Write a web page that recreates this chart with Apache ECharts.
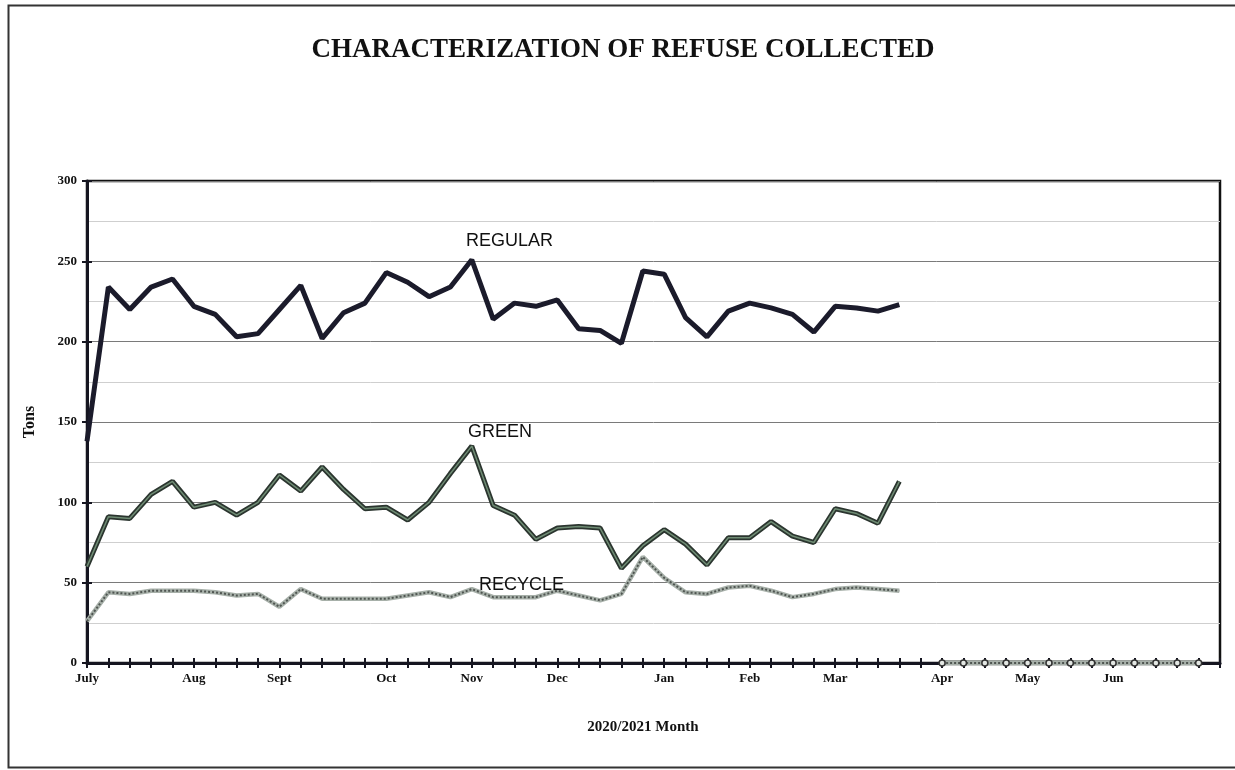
<!DOCTYPE html>
<html>
<head>
<meta charset="utf-8">
<script src="https://cdn.jsdelivr.net/npm/echarts@6/dist/echarts.min.js"></script>
<style>
html,body{margin:0;padding:0;background:#fff;}
#chart{width:1235px;height:770px;}
</style>
</head>
<body>
<div id="chart"></div>
<script>
// Weekly points (54 slots, July 2020 .. June 2021)
const weekCount = 54;
const monthNames = ['July','Aug','Sept','Oct','Nov','Dec','Jan','Feb','Mar','Apr','May','Jun'];
const monthWeekIndex = [0,5,9,14,18,22,27,31,35,40,44,48];

const regular = [138,234,220,234,239,222,217,203,205,220,235,202,218,224,243,237,228,234,251,214,
  224,222,226,208,207,199,244,242,215,203,219,224,221,217,206,222,221,219,223];
const green = [60,91,90,105,113,97,100,92,100,117,107,122,108,96,97,89,100,118,135,98,
  92,77,84,85,84,59,73,83,74,61,78,78,88,79,75,96,93,87,113];
const recycle = [26,44,43,45,45,45,44,42,43,35,46,40,40,40,40,42,44,41,46,41,
  41,41,45,42,39,43,66,53,44,43,47,48,45,41,43,46,47,46,45];
// Apr-Jun weeks reported as zero
const zeroWeeks = [40,41,42,43,44,45,46,47,48,49,50,51,52];

const xLabels = [];
for (let i = 0; i < weekCount; i++) {
  const k = monthWeekIndex.indexOf(i);
  xLabels.push(k >= 0 ? monthNames[k] : '');
}
function pad(arr, withZeros, marked) {
  const out = [];
  for (let i = 0; i < weekCount; i++) {
    if (i < arr.length) out.push(arr[i]);
    else if (withZeros && zeroWeeks.indexOf(i) >= 0) out.push(marked ? {value: 0, symbol: 'circle', symbolSize: 6} : 0);
    else out.push(null);
  }
  return out;
}

const serif = '"Liberation Serif", "Times New Roman", serif';
const sans = '"Liberation Sans", Arial, sans-serif';

const chart = echarts.init(document.getElementById('chart'));
chart.setOption({
  animation: false,
  backgroundColor: '#fff',
  grid: {left: 87, right: 15, top: 181, bottom: 107, outerBoundsMode: 'none', containLabel: false,
         show: true, borderColor: '#111', borderWidth: 2.5, backgroundColor: 'transparent'},
  xAxis: [
    {type: 'category', data: xLabels, boundaryGap: false, position: 'bottom',
     axisLine: {lineStyle: {color: '#151520', width: 3}},
     axisTick: {show: true, interval: 0, length: 5, lineStyle: {color: '#151520', width: 2}},
     axisLabel: {interval: 0, margin: 9, color: '#111', fontFamily: serif, fontWeight: 'bold', fontSize: 13},
     splitLine: {show: false}},
    {type: 'category', data: xLabels, boundaryGap: false, position: 'bottom',
     axisLine: {show: false},
     axisTick: {show: true, inside: true, interval: 0, length: 5, lineStyle: {color: '#151520', width: 2}},
     axisLabel: {show: false}, splitLine: {show: false}}
  ],
  yAxis: [
    {type: 'value', min: 0, max: 300, interval: 25, position: 'left',
     axisLine: {show: false}, axisTick: {show: false}, axisLabel: {show: false},
     splitLine: {show: true, lineStyle: {color: ['#7a7a7a', '#cfcfcf'], width: 1}}},
    {type: 'value', min: 0, max: 300, interval: 50, position: 'left',
     axisLine: {show: true, lineStyle: {color: '#151520', width: 3}},
     axisTick: {show: true, length: 5, lineStyle: {color: '#151520', width: 2}},
     axisLabel: {margin: 10, color: '#111', fontFamily: serif, fontWeight: 'bold', fontSize: 13},
     splitLine: {show: false}},
    {type: 'value', min: 0, max: 300, interval: 50, position: 'left',
     axisLine: {show: false},
     axisTick: {show: true, inside: true, length: 5, lineStyle: {color: '#151520', width: 2}},
     axisLabel: {show: false}, splitLine: {show: false}}
  ],
  series: [
    {name: 'GREEN', type: 'line', yAxisIndex: 1, data: pad(green, true, false), showSymbol: false,
     lineStyle: {color: '#2b352f', width: 5}, z: 2},
    {name: 'GREEN inner', type: 'line', yAxisIndex: 1, data: pad(green, false, false), showSymbol: false,
     lineStyle: {color: '#6f8c74', width: 1.5}, z: 3},
    {name: 'RECYCLE', type: 'line', yAxisIndex: 1, data: pad(recycle, true, false), showSymbol: false,
     lineStyle: {color: '#a7b0a9', width: 4.5}, z: 4},
    {name: 'RECYCLE dots', type: 'line', yAxisIndex: 1, data: pad(recycle, true, true), showSymbol: true, symbol: 'none',
     lineStyle: {color: '#4f5551', width: 2, type: [2, 2]},
     itemStyle: {color: '#e4e8e4', borderColor: '#333', borderWidth: 1.5}, z: 5},
    {name: 'REGULAR', type: 'line', yAxisIndex: 1, data: pad(regular, false, false), showSymbol: false,
     lineStyle: {color: '#1b1b2b', width: 5}, z: 6}
  ],
  graphic: [
    {type: 'rect', shape: {x: 8.5, y: 5.5, width: 1240, height: 762}, style: {fill: 'none', stroke: '#333', lineWidth: 2}, silent: true},
    {type: 'text', x: 623, y: 50, style: {text: 'CHARACTERIZATION OF REFUSE COLLECTED', font: 'bold 27px ' + serif, fill: '#111', textAlign: 'center', textVerticalAlign: 'middle'}},
    {type: 'text', x: 30, y: 422, rotation: Math.PI / 2, style: {text: 'Tons', font: 'bold 16px ' + serif, fill: '#111', textAlign: 'center', textVerticalAlign: 'middle'}},
    {type: 'text', x: 643, y: 727, style: {text: '2020/2021 Month', font: 'bold 15px ' + serif, fill: '#111', textAlign: 'center', textVerticalAlign: 'middle'}},
    {type: 'text', x: 466, y: 241, z: 10, style: {text: 'REGULAR', font: '18px ' + sans, fill: '#111', textAlign: 'left', textVerticalAlign: 'middle'}},
    {type: 'text', x: 468, y: 432, z: 10, style: {text: 'GREEN', font: '18px ' + sans, fill: '#111', textAlign: 'left', textVerticalAlign: 'middle'}},
    {type: 'text', x: 479, y: 585, z: 10, style: {text: 'RECYCLE', font: '18px ' + sans, fill: '#111', textAlign: 'left', textVerticalAlign: 'middle'}}
  ]
});
</script>
</body>
</html>
